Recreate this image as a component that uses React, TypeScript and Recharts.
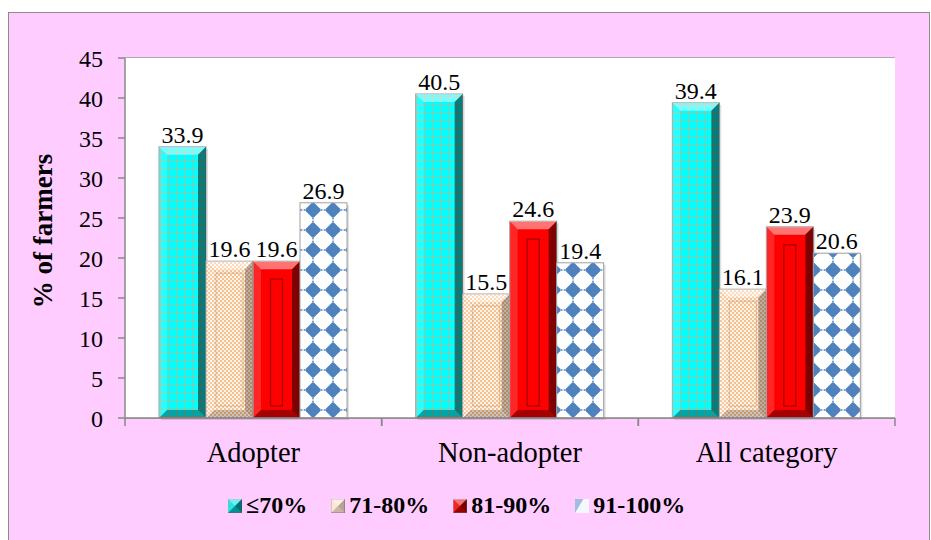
import { BarChart, Bar, XAxis, YAxis, CartesianGrid, LabelList } from 'recharts'

const categories = ['Adopter', 'Non-adopter', 'All category']
const seriesNames = ['≤70%', '71-80%', '81-90%', '91-100%']
const upTo70 = [33.9, 40.5, 39.4]
const from71to80 = [19.6, 15.5, 16.1]
const from81to90 = [19.6, 24.6, 23.9]
const from91to100 = [26.9, 19.4, 20.6]
const yTicks = [0, 5, 10, 15, 20, 25, 30, 35, 40, 45]

const data = categories.map((name, i) => ({
  name,
  s1: upTo70[i],
  s2: from71to80[i],
  s3: from81to90[i],
  s4: from91to100[i],
}))

const W = 931
const H = 540
const MARGIN = { top: 58, right: 36, bottom: 92, left: 65 }
const Y_AXIS_W = 60
const PLOT_W = W - MARGIN.left - Y_AXIS_W - MARGIN.right
const HALF_BAND = PLOT_W / categories.length / 2
const SERIF = '"Liberation Serif", "Times New Roman", serif'

type Kind = 'cyan' | 'beige' | 'red' | 'diamond'

const FILLS: Record<Kind, string> = {
  cyan: 'url(#pat-cyan)',
  beige: 'url(#pat-beige)',
  red: '#ff0000',
  diamond: 'url(#pat-diamond)',
}

function bevel(x: number, y: number, w: number, h: number, b: number, kind: Kind) {
  if (kind === 'diamond') return null
  const dark = kind === 'beige' ? 0.28 : 0.5
  return (
    <g>
      <polygon points={`${x},${y} ${x + w},${y} ${x + w - b},${y + b} ${x + b},${y + b}`} fill="#fff" fillOpacity={0.45} />
      <polygon points={`${x},${y} ${x + b},${y + b} ${x + b},${y + h - b} ${x},${y + h}`} fill="#fff" fillOpacity={0.15} />
      <polygon points={`${x + w},${y} ${x + w},${y + h} ${x + w - b},${y + h - b} ${x + w - b},${y + b}`} fill="#000" fillOpacity={dark} />
      <polygon points={`${x},${y + h} ${x + b},${y + h - b} ${x + w - b},${y + h - b} ${x + w},${y + h}`} fill="#000" fillOpacity={dark * 0.7} />
    </g>
  )
}

const makeShape = (kind: Kind) => (props: any) => {
  const { x, y, width, height } = props
  if (!height || height <= 0) return <g />
  const b = Math.min(8, height / 2)
  return (
    <g>
      <rect x={x + 2} y={y + 2} width={width} height={height} fill="#000" fillOpacity={0.12} />
      <rect x={x} y={y} width={width} height={height} fill={FILLS[kind]} stroke="#a0a0a0" strokeWidth={1} />
      {bevel(x, y, width, height, b, kind)}
      {kind === 'red' && (
        <rect x={x + width / 2 - 6} y={y + 18} width={12} height={height - 30} fill="none" stroke="#a00000" strokeWidth={1.2} />
      )}
      {kind === 'beige' && (
        <rect x={x + b + 2} y={y + b + 4} width={width - 2 * b - 4} height={height - 2 * b - 8} fill="none" stroke="#c8a080" strokeWidth={1} strokeOpacity={0.6} />
      )}
    </g>
  )
}

function CategoryTick(props: any) {
  const { x, y, payload } = props
  return (
    <g>
      <line x1={x - HALF_BAND} y1={y} x2={x - HALF_BAND} y2={y + 8} stroke="#888" strokeWidth={1.5} />
      <line x1={x + HALF_BAND} y1={y} x2={x + HALF_BAND} y2={y + 8} stroke="#888" strokeWidth={1.5} />
      <text x={x} y={y + 44} textAnchor="middle" fontSize={28.5} fontFamily={SERIF} fill="#000">
        {payload.value}
      </text>
    </g>
  )
}

function YTitle(props: any) {
  const { viewBox } = props
  const cx = 43
  const cy = viewBox.y + viewBox.height / 2 - 7
  return (
    <text x={cx} y={cy} transform={`rotate(-90 ${cx} ${cy})`} textAnchor="middle" dominantBaseline="central" fontSize={27} fontWeight="bold" fontFamily={SERIF} fill="#000">
      % of farmers
    </text>
  )
}

const legendSwatch: Record<Kind, string> = {
  cyan: '#00e0e0',
  beige: '#fbe3cc',
  red: '#ee0000',
  diamond: '#f4f7fc',
}

function LegendIcon({ kind }: { kind: Kind }) {
  const s = 14
  return (
    <svg width={s} height={s} style={{ display: 'block' }}>
      <rect x={0} y={0} width={s} height={s} fill={legendSwatch[kind]} stroke={kind === 'diamond' ? 'none' : '#999'} />
      {kind === 'diamond' ? (
        <polygon points={`0,${s} 0,0 ${s * 0.6},0`} fill="#4f81bd" fillOpacity={0.5} />
      ) : (
        bevel(0, 0, s, s, s / 2, kind)
      )}
    </svg>
  )
}

const kinds: Kind[] = ['cyan', 'beige', 'red', 'diamond']
const keys = ['s1', 's2', 's3', 's4']

export default function App() {
  return (
    <div style={{ position: 'absolute', left: 0, top: 0, width: W, height: H, background: '#fff' }}>
      <div
        style={{
          position: 'absolute',
          left: 8,
          top: 12,
          width: 922,
          height: 530,
          background: '#ffccff',
          border: '1px solid #8c8c8c',
          boxSizing: 'border-box',
        }}
      />
      <div style={{ position: 'absolute', left: 0, top: 0 }}>
        <BarChart width={W} height={H} data={data} margin={MARGIN} barCategoryGap={34} barGap={0}>
          <defs>
            <pattern id="pat-cyan" width={8} height={8} patternUnits="userSpaceOnUse">
              <rect width={8} height={8} fill="#00ffff" />
              <line x1={0} y1={0.5} x2={8} y2={0.5} stroke="#e8a070" strokeWidth={0.7} strokeOpacity={0.8} />
              <line x1={0.5} y1={0} x2={0.5} y2={8} stroke="#e8a070" strokeWidth={0.7} strokeOpacity={0.8} />
            </pattern>
            <pattern id="pat-beige" width={4} height={4} patternUnits="userSpaceOnUse">
              <rect width={4} height={4} fill="#fff4e8" />
              <rect width={2} height={2} fill="#f5c090" />
              <rect x={2} y={2} width={2} height={2} fill="#f5c090" />
            </pattern>
            <pattern id="pat-diamond" width={20} height={20} patternUnits="userSpaceOnUse" x={3} y={0}>
              <rect width={20} height={20} fill="#fff" />
              <polygon points="10,3.5 16.5,10 10,16.5 3.5,10" fill="#4f81bd" stroke="#4f81bd" strokeWidth={2.5} strokeLinejoin="round" />
              <polygon points="9,2 11,2 10,0" fill="#4f81bd" />
              <polygon points="9,18 11,18 10,20" fill="#4f81bd" />
              <polygon points="2,9 2,11 0,10" fill="#4f81bd" />
              <polygon points="18,9 18,11 20,10" fill="#4f81bd" />
            </pattern>
          </defs>
          <rect x={MARGIN.left + Y_AXIS_W} y={MARGIN.top} width={PLOT_W} height={H - MARGIN.top - MARGIN.bottom - 30} fill="#fff" />
          <CartesianGrid vertical={false} stroke="#999" strokeWidth={1.5} fill="#fff" />
          <XAxis
            dataKey="name"
            height={30}
            tickLine={false}
            tickSize={0}
            tickMargin={0}
            axisLine={{ stroke: '#888', strokeWidth: 1.5 }}
            tick={<CategoryTick />}
            interval={0}
          />
          <YAxis
            width={Y_AXIS_W}
            domain={[0, 45]}
            ticks={yTicks}
            interval={0}
            tickSize={7}
            tickMargin={15}
            axisLine={{ stroke: '#888', strokeWidth: 1.5 }}
            tickLine={{ stroke: '#888', strokeWidth: 1.5 }}
            tick={{ fill: '#000', fontSize: 24, fontFamily: SERIF }}
            label={<YTitle />}
          />
          {keys.map((k, i) => (
            <Bar key={k} dataKey={k} name={seriesNames[i]} shape={makeShape(kinds[i])} isAnimationActive={false}>
              <LabelList dataKey={k} position="top" offset={4} fill="#000" fontSize={24} fontFamily={SERIF} />
            </Bar>
          ))}
        </BarChart>
      </div>
      <div
        style={{
          position: 'absolute',
          left: 228,
          top: 492,
          display: 'flex',
          alignItems: 'center',
          gap: 24,
          fontFamily: SERIF,
          fontWeight: 'bold',
          fontSize: 24,
          color: '#000',
        }}
      >
        {seriesNames.map((n, i) => (
          <div key={n} style={{ display: 'flex', alignItems: 'center', gap: 4 }}>
            <LegendIcon kind={kinds[i]} />
            <span>{n}</span>
          </div>
        ))}
      </div>
    </div>
  )
}
